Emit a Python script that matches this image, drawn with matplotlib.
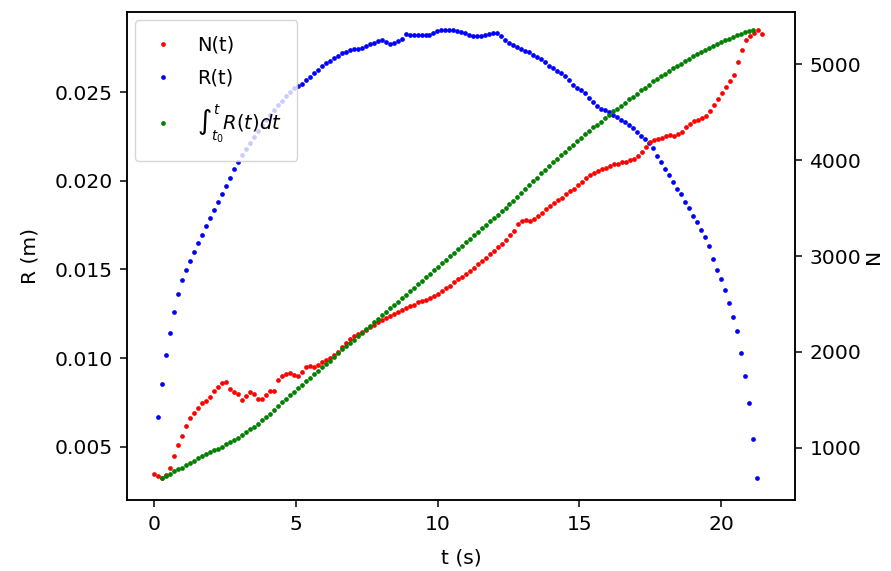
import numpy as np
import matplotlib
matplotlib.use("Agg")
import matplotlib.pyplot as plt

# Sampling: all series share the same frame interval
DT = 0.141  # s

# Bubble radius R(t), in millimetres (first sample at t = 0.12 s)
T0_R = 0.12
R_mm = [6.69, 8.55, 10.18, 11.42, 12.61, 13.62, 14.41, 14.97, 15.48, 15.99,
        16.48, 16.96, 17.43, 17.88, 18.34, 18.79, 19.25, 19.70, 20.15, 20.66,
        21.06, 21.43, 21.79, 22.14, 22.48, 22.80, 23.12, 23.42, 23.71, 23.99,
        24.26, 24.52, 24.76, 25.00, 25.20, 25.35, 25.48, 25.66, 25.86, 26.08,
        26.26, 26.44, 26.61, 26.76, 26.90, 27.04, 27.18, 27.28, 27.37, 27.45,
        27.42, 27.49, 27.59, 27.69, 27.78, 27.88, 27.96, 27.82, 27.72, 27.76,
        27.87, 28.01, 28.28, 28.24, 28.19, 28.19, 28.19, 28.19, 28.21, 28.30,
        28.44, 28.48, 28.48, 28.48, 28.48, 28.45, 28.38, 28.31, 28.24, 28.18,
        28.15, 28.18, 28.22, 28.27, 28.32, 28.34, 28.18, 27.96, 27.79, 27.65,
        27.54, 27.42, 27.31, 27.23, 27.11, 26.99, 26.88, 26.69, 26.49, 26.35,
        26.21, 26.07, 25.93, 25.68, 25.42, 25.25, 25.11, 24.94, 24.69, 24.44,
        24.24, 24.07, 23.96, 23.85, 23.73, 23.59, 23.44, 23.29, 23.14, 22.97,
        22.77, 22.55, 22.35, 22.13, 21.82, 21.39, 21.06, 20.69, 20.32, 19.93,
        19.56, 19.23, 18.83, 18.44, 18.04, 17.68, 17.25, 16.83, 16.35, 15.59,
        14.97, 14.46, 13.87, 13.11, 12.35, 11.54, 10.30, 9.00, 7.48, 5.45, 3.27]

# Counted N(t) (first sample at t = 0 s)
T0_N = 0.0
N_counts = [726, 705, 687, 710, 788, 913, 1023, 1127, 1226, 1305,
            1367, 1414, 1461, 1492, 1529, 1592, 1638, 1670, 1685, 1612,
            1576, 1560, 1498, 1539, 1581, 1555, 1508, 1513, 1550, 1592,
            1592, 1706, 1753, 1769, 1776, 1758, 1743, 1790, 1842, 1847,
            1837, 1863, 1894, 1915, 1936, 1967, 1998, 2051, 2092, 2134,
            2165, 2191, 2212, 2233, 2254, 2280, 2311, 2327, 2353, 2374,
            2390, 2416, 2437, 2458, 2478, 2489, 2515, 2531, 2546, 2562,
            2583, 2604, 2630, 2661, 2687, 2724, 2760, 2786, 2817, 2843,
            2880, 2917, 2948, 2984, 3021, 3057, 3089, 3130, 3172, 3214,
            3256, 3334, 3370, 3376, 3365, 3386, 3417, 3449, 3490, 3522,
            3553, 3584, 3610, 3642, 3678, 3699, 3741, 3777, 3814, 3840,
            3866, 3892, 3908, 3923, 3939, 3955, 3965, 3976, 3986, 4002,
            4012, 4043, 4085, 4142, 4189, 4210, 4224, 4236, 4252, 4262,
            4257, 4268, 4299, 4341, 4377, 4408, 4424, 4435, 4461, 4513,
            4575, 4638, 4701, 4763, 4826, 4888, 5024, 5149, 5254, 5295,
            5327, 5353, 5321]

# Scaled integral of R(t) (first sample at t = 0.265 s)
T0_I = 0.265
R_integral = [684, 709, 730, 752, 773, 793, 814, 840, 866, 893,
              913, 934, 955, 972, 989, 1009, 1034, 1059, 1082, 1105,
              1132, 1164, 1192, 1216, 1252, 1289, 1320, 1352, 1388, 1430,
              1472, 1513, 1550, 1586, 1623, 1659, 1696, 1727, 1764, 1800,
              1837, 1873, 1905, 1946, 1988, 2025, 2061, 2092, 2128, 2164,
              2200, 2236, 2272, 2308, 2344, 2381, 2417, 2453, 2489, 2525,
              2561, 2597, 2633, 2670, 2706, 2742, 2778, 2814, 2850, 2886,
              2922, 2959, 2995, 3031, 3068, 3104, 3141, 3177, 3214, 3250,
              3287, 3323, 3360, 3396, 3433, 3469, 3506, 3542, 3579, 3616,
              3657, 3699, 3736, 3778, 3819, 3861, 3902, 3939, 3976, 4012,
              4054, 4090, 4127, 4163, 4200, 4236, 4273, 4309, 4341, 4372,
              4403, 4440, 4476, 4508, 4539, 4570, 4601, 4633, 4664, 4695,
              4727, 4758, 4789, 4821, 4847, 4878, 4904, 4930, 4958, 4982,
              5008, 5034, 5060, 5086, 5107, 5128, 5149, 5175, 5196, 5217,
              5238, 5253, 5269, 5290, 5305, 5321, 5337, 5347, 5355]

labels = ["N(t)", "R(t)", r"$\int_{t_0}^{t}R(t)dt$"]

t_R = T0_R + DT * np.arange(len(R_mm))
t_N = T0_N + DT * np.arange(len(N_counts))
t_I = T0_I + DT * np.arange(len(R_integral))
R_m = np.asarray(R_mm) / 1000.0

FS = 14.6
plt.rcParams.update({
    "font.family": "DejaVu Sans",
    "mathtext.fontset": "dejavusans",
    "font.size": FS,
    "axes.linewidth": 1.1,
    "xtick.major.size": 4.9,
    "ytick.major.size": 4.9,
    "xtick.major.width": 1.1,
    "ytick.major.width": 1.1,
    "xtick.major.pad": 6.0,
    "ytick.major.pad": 5.5,
})

fig = plt.figure(figsize=(8.91, 5.71), dpi=100)
ax = fig.add_axes([127 / 891, 1 - 500 / 571, (795 - 127) / 891, (500 - 12) / 571])
ax2 = ax.twinx()

mk = dict(linestyle="none", marker="o", markersize=3.4, markeredgewidth=0)
h_r, = ax.plot(t_R, R_m, color="b", **mk)
h_n, = ax2.plot(t_N, N_counts, color="r", **mk)
h_i, = ax2.plot(t_I, R_integral, color="g", **mk)

ax.set_xlim(-0.97, 22.61)
ax.set_ylim(0.00201, 0.02951)
ax2.set_ylim(454, 5546)
ax.set_xticks([0, 5, 10, 15, 20])
ax.set_yticks([0.005, 0.010, 0.015, 0.020, 0.025])
ax2.set_yticks([1000, 2000, 3000, 4000, 5000])

ax.set_xlabel("t (s)", labelpad=10.5)
ax.set_ylabel("R (m)", labelpad=10.5)
ax2.set_ylabel("N", labelpad=2.0)

ax2.legend([h_n, h_r, h_i], labels, loc="upper left", fontsize=14,
           borderaxespad=0.4, borderpad=0.8, labelspacing=0.75,
           handlelength=1.3, handletextpad=1.1)

fig.savefig("out.png", dpi=100)
